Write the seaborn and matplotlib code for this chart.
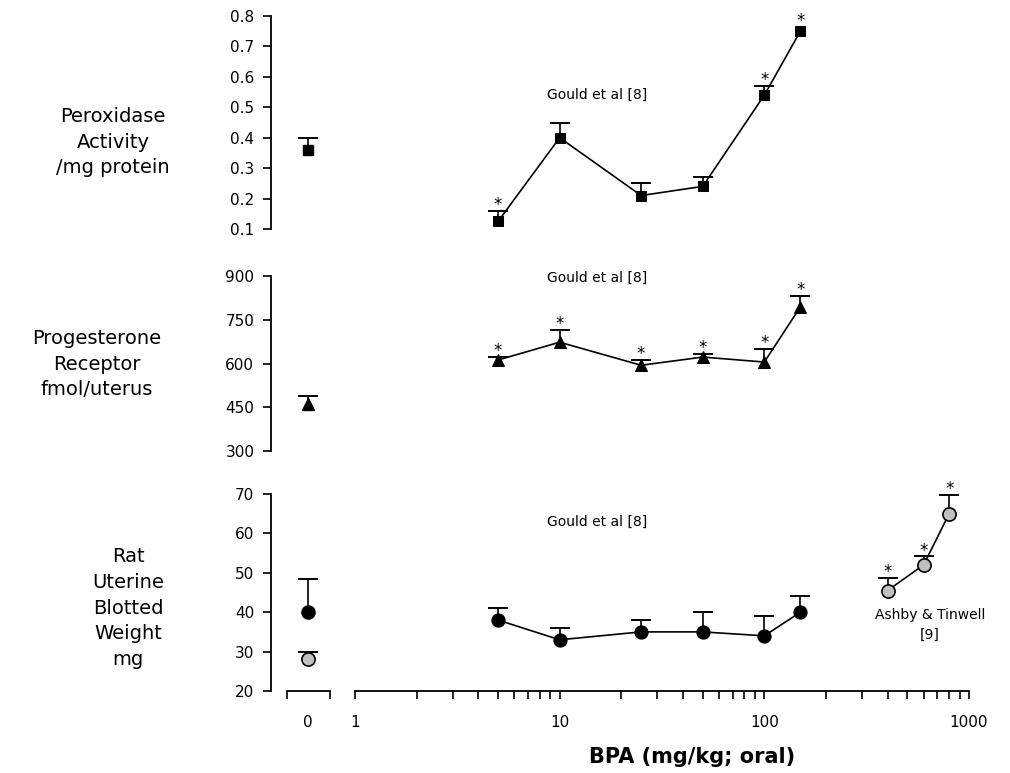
import matplotlib
matplotlib.use("Agg")
import matplotlib.pyplot as plt
import matplotlib.ticker as mticker
import numpy as np
import seaborn as sns

# ---------------- data ----------------
dose = [5, 10, 25, 50, 100, 150]

# Peroxidase activity / mg protein  (Gould et al [8])
perox_ctrl = 0.36
perox_ctrl_upper = 0.40
perox_mean = [0.125, 0.40, 0.21, 0.24, 0.54, 0.75]
perox_upper = [0.16, 0.45, 0.25, 0.27, 0.57, 0.75]
perox_sig = [1, 0, 0, 0, 1, 1]

# Progesterone receptor fmol/uterus  (Gould et al [8])
pr_ctrl = 460
pr_ctrl_upper = 488
pr_mean = [612, 673, 594, 622, 605, 794]
pr_upper = [622, 715, 612, 632, 650, 831]
pr_sig = [1, 1, 1, 1, 1, 1]

# Rat uterine blotted weight mg  (Gould et al [8])
uw_ctrl = 40
uw_ctrl_upper = 48.5
uw_mean = [38, 33, 35, 35, 34, 40]
uw_upper = [41, 36, 38, 40, 39, 44]

# Ashby & Tinwell [9]
ashby_ctrl = 28
ashby_ctrl_upper = 30
ashby_dose = [400, 600, 800]
ashby_mean = [45.5, 52, 65]
ashby_upper = [48.8, 54.2, 69.7]
ashby_sig = [1, 1, 1]

log_ticks = [1, 10, 100, 1000]
log_labels = ["1", "10", "100", "1000"]
perox_ticks = [0.1, 0.2, 0.3, 0.4, 0.5, 0.6, 0.7, 0.8]
pr_ticks = [300, 450, 600, 750, 900]
uw_ticks = [20, 30, 40, 50, 60, 70]

# ---------------- style ----------------
sns.set_theme(style="ticks")
plt.rcParams["font.family"] = ["DejaVu Sans"]
plt.rcParams["axes.linewidth"] = 1.3
plt.rcParams["axes.edgecolor"] = "black"
plt.rcParams["text.color"] = "black"
plt.rcParams["xtick.color"] = "black"
plt.rcParams["ytick.color"] = "black"
plt.rcParams["xtick.major.width"] = 1.2
plt.rcParams["ytick.major.width"] = 1.2
plt.rcParams["xtick.minor.width"] = 1.2

W, H = 1010, 773
fig = plt.figure(figsize=(W / 100, H / 100), dpi=100)


def px_box(left, right, top, bottom):
    # pixel box -> figure fraction rect
    return [left / W, 1 - bottom / H, (right - left) / W, (bottom - top) / H]


def err_caps(ax, x, mean, upper):
    # upper-only error bars (T shape)
    x = np.atleast_1d(x)
    mean = np.atleast_1d(mean)
    upper = np.atleast_1d(upper)
    keep = upper > mean
    ax.vlines(x[keep], mean[keep], upper[keep], color="black", lw=1.2, zorder=2)
    ax.plot(x[keep], upper[keep], ls="none", marker="_", ms=14, mew=1.4,
            color="black", zorder=2, clip_on=False)


def stars(ax, x, mean, upper, sig):
    for xi, m, u, s in zip(x, mean, upper, sig):
        if s:
            ax.annotate("*", (xi, max(m, u)), xytext=(0, 0.5 if u > m else 3.5),
                        textcoords="offset points", ha="center", va="baseline",
                        fontsize=12, annotation_clip=False)


def make_panel(top, bottom, ticks, show_x):
    axc = fig.add_axes(px_box(271, 345, top, bottom))
    axm = fig.add_axes(px_box(355, 969, top, bottom))
    for ax in (axc, axm):
        ax.set_ylim(ticks[0], ticks[-1])
        ax.set_facecolor("none")
        ax.spines["top"].set_visible(False)
        ax.spines["right"].set_visible(False)
    axc.set_xlim(-1, 1)
    axc.set_yticks(ticks)
    axc.set_yticklabels([f"{t:g}" for t in ticks])
    axc.tick_params(axis="y", length=6, pad=6, labelsize=11)
    axm.spines["left"].set_visible(False)
    axm.set_yticks([])
    axm.set_xscale("log")
    axm.set_xlim(1, 1000)
    if show_x:
        axc.spines["bottom"].set_bounds(-0.57, 0.59)
        axc.set_xticks([-0.57, 0, 0.59])
        axc.set_xticklabels(["", "0", ""])
        axc.xaxis.get_major_ticks()[1].tick1line.set_visible(False)
        axc.tick_params(axis="x", length=6, pad=11, labelsize=11)
        axm.xaxis.set_major_locator(mticker.FixedLocator(log_ticks))
        axm.xaxis.set_major_formatter(mticker.FixedFormatter(log_labels))
        axm.xaxis.set_minor_locator(mticker.LogLocator(base=10, subs=np.arange(2, 10)))
        axm.xaxis.set_minor_formatter(mticker.NullFormatter())
        axm.tick_params(axis="x", which="both", length=6, pad=11, labelsize=11,
                        width=1.2)
    else:
        for ax in (axc, axm):
            ax.spines["bottom"].set_visible(False)
            ax.set_xticks([])
        axm.xaxis.set_minor_locator(mticker.NullLocator())
    return axc, axm


# ---------------- top: peroxidase ----------------
axc, axm = make_panel(16, 229, perox_ticks, False)
err_caps(axc, 0, perox_ctrl, perox_ctrl_upper)
axc.plot(0, perox_ctrl, marker="s", ms=7, color="black", zorder=3, clip_on=False)
err_caps(axm, dose, perox_mean, perox_upper)
sns.lineplot(x=dose, y=perox_mean, ax=axm, color="black", lw=1.2, marker="s",
             ms=7, mec="black", zorder=3, clip_on=False)
stars(axm, dose, perox_mean, perox_upper, perox_sig)
axm.text(15.2, 0.54, "Gould et al [8]", ha="center", va="center", fontsize=10)
fig.text(113 / W, 1 - 142 / H, "Peroxidase\nActivity\n/mg protein", ha="center",
         va="center", fontsize=14, linespacing=1.45)

# ---------------- middle: progesterone receptor ----------------
axc, axm = make_panel(276, 451, pr_ticks, False)
err_caps(axc, 0, pr_ctrl, pr_ctrl_upper)
axc.plot(0, pr_ctrl, marker="^", ms=9, color="black", zorder=3, clip_on=False)
err_caps(axm, dose, pr_mean, pr_upper)
sns.lineplot(x=dose, y=pr_mean, ax=axm, color="black", lw=1.2, marker="^",
             ms=9, mec="black", zorder=3, clip_on=False)
stars(axm, dose, pr_mean, pr_upper, pr_sig)
axm.text(15.2, 893, "Gould et al [8]", ha="center", va="center", fontsize=10)
fig.text(97 / W, 1 - 364 / H, "Progesterone\nReceptor\nfmol/uterus", ha="center",
         va="center", fontsize=14, linespacing=1.45)

# ---------------- bottom: uterine weight ----------------
axc, axm = make_panel(494, 691, uw_ticks, True)
err_caps(axc, 0, uw_ctrl, uw_ctrl_upper)
axc.plot(0, uw_ctrl, marker="o", ms=9.5, color="black", zorder=3, clip_on=False)
err_caps(axc, 0, ashby_ctrl, ashby_ctrl_upper)
axc.plot(0, ashby_ctrl, marker="o", ms=9.5, mfc="#c0c0c0", mec="black", mew=1.2,
         zorder=3, clip_on=False)
err_caps(axm, dose, uw_mean, uw_upper)
sns.lineplot(x=dose, y=uw_mean, ax=axm, color="black", lw=1.2, marker="o",
             ms=9.5, mec="black", zorder=3, clip_on=False)
err_caps(axm, ashby_dose, ashby_mean, ashby_upper)
sns.lineplot(x=ashby_dose, y=ashby_mean, ax=axm, color="black", lw=1.2, marker="o",
             ms=9.5, mfc="#c0c0c0", mec="black", mew=1.2, zorder=3, clip_on=False)
stars(axm, ashby_dose, ashby_mean, ashby_upper, ashby_sig)
axm.text(15.2, 62.9, "Gould et al [8]", ha="center", va="center", fontsize=10)
axm.text(644, 36.8, "Ashby & Tinwell\n[9]", ha="center", va="center", fontsize=10,
         linespacing=1.5)
fig.text(128 / W, 1 - 608 / H, "Rat\nUterine\nBlotted\nWeight\nmg", ha="center",
         va="center", fontsize=14, linespacing=1.45)

fig.text(692 / W, 1 - 757 / H, "BPA (mg/kg; oral)", ha="center", va="center",
         fontsize=15, fontweight="bold")

fig.savefig("out.png", dpi=100)
